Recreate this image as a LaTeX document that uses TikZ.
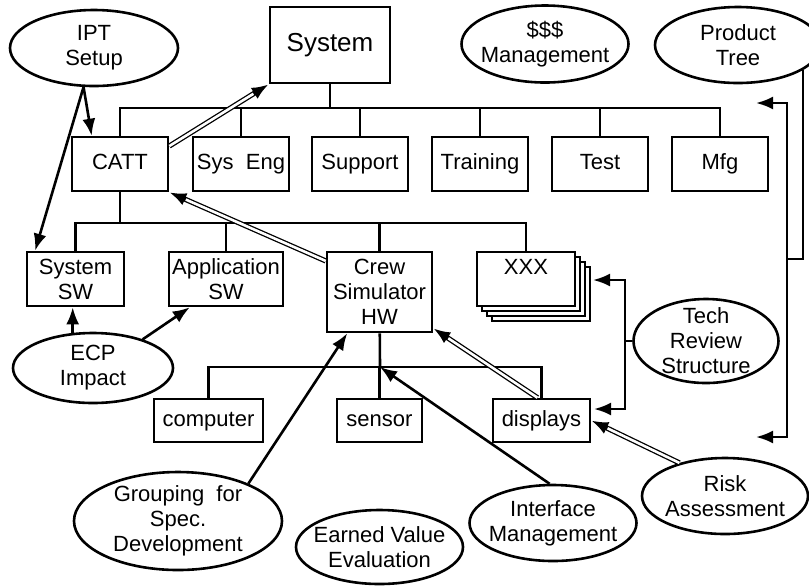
\documentclass[tikz,border=0pt]{standalone}
\usepackage{fontspec}
\setmainfont{Liberation Sans}
\usetikzlibrary{arrows.meta,calc,shapes.geometric}

\begin{document}
\begin{tikzpicture}[x=0.5pt,y=-0.5pt,line width=1.3pt,
    every node/.style={font=\fontsize{11}{12.5}\selectfont, align=center},
    wbs/.style={draw, rectangle, fill=white, inner sep=1pt,
        minimum width=48pt, minimum height=27pt},
    leaf/.style={wbs, text height=8pt, text depth=2.4pt},
    tool/.style={draw, ellipse, inner xsep=-8pt, inner ysep=-6pt},
    arr/.style={-{Latex[length=8.5pt,width=6.5pt]}},
    dbl/.style={line width=2.6pt, -{Latex[length=8.5pt,width=6.5pt]},
        postaction={draw=white, line width=1.3pt, -, shorten >=9pt}}
]

\useasboundingbox (0,0) rectangle (809,586);

% --- Top of the tree ---
\node[wbs, minimum width=60pt, minimum height=38pt,
    font=\fontsize{13}{15}\selectfont] (sys) at (330,45) {System};

\node[leaf] (catt)     at (120,164) {CATT};
\node[leaf] (syseng)   at (241,164) {Sys\ \ Eng};
\node[leaf] (support)  at (360,164) {Support};
\node[leaf] (training) at (480,164) {Training};
\node[leaf] (test)     at (600,164) {Test};
\node[leaf] (mfg)      at (720,164) {Mfg};

\coordinate (bus1) at (330,108);
\draw (sys) -- (bus1);
\foreach \n in {catt,syseng,support,training,test,mfg}
    \draw (\n.north) |- (bus1);

% --- Under CATT ---
% stacked copies behind XXX
\foreach \d in {15,10,5}
    \draw[fill=white] (477+\d,252+\d) rectangle (575+\d,306+\d);

\node[wbs, minimum width=48.5pt] (syssw) at (75.5,279) {System\\SW};
\node[wbs, minimum width=57pt]   (appsw) at (226,279)  {Application\\SW};
\node[wbs, minimum width=52.5pt, minimum height=40pt]
                                 (crew)  at (379.5,292) {Crew\\Simulator\\HW};
\node[wbs, minimum width=49pt]   (xxx)   at (526,279)  {XXX\\~};

\coordinate (bus2) at (120,223);
\draw (catt) -- (bus2);
\foreach \n in {syssw,appsw,crew,xxx}
    \draw (\n.north) |- (bus2);

% --- Under Crew Simulator HW ---
\node[leaf, minimum width=54.5pt, minimum height=21.5pt] (computer) at (208.5,420.5) {computer};
\node[leaf, minimum width=42.5pt, minimum height=21.5pt] (sensor)   at (379.5,420.5) {sensor};
\node[leaf, minimum width=48.5pt, minimum height=21.5pt] (displays) at (541.5,420.5) {displays};

\coordinate (bus3) at (380,367);
\draw (crew) -- (bus3);
\foreach \n in {computer,sensor,displays}
    \draw (\n.north) |- (bus3);

% --- Ellipses ---
\node[tool, minimum width=84pt,   minimum height=38pt]   (ipt)       at (94,48)    {IPT\\Setup};
\node[tool, minimum width=83.5pt, minimum height=38.5pt] (money)     at (545,44)   {\$\$\$\\Management};
\node[tool, minimum width=83pt,   minimum height=38pt]   (product)   at (738,45)   {Product\\Tree};
\node[tool, minimum width=72.5pt, minimum height=42pt]   (tech)      at (706,341)  {Tech\\Review\\Structure};
\node[tool, minimum width=80pt,   minimum height=35pt]   (ecp)       at (93,368)   {ECP\\Impact};
\node[tool, minimum width=104pt,  minimum height=49pt]   (grouping)  at (178,521)  {Grouping\ \ for\\Spec.\\Development};
\node[tool, minimum width=83.5pt, minimum height=37pt]   (earned)    at (379.5,547) {Earned Value\\Evaluation};
\node[tool, minimum width=83.5pt, minimum height=38pt]   (interface) at (553,523)  {Interface\\Management};
\node[tool, minimum width=83pt,   minimum height=38pt]   (risk)      at (725,496)  {Risk\\Assessment};

% --- Single arrows ---
\draw[arr] (ipt.255) -- (catt.135);
\draw[arr] (ipt.255) -- (syssw.145);
\draw[arr] (ecp.120) -- (ecp.120 |- syssw.south);
\draw[arr] (ecp.30) -- (appsw.218);
\draw[arr] (grouping.28) -- (crew.232);
\draw[arr] (interface.95) -- (bus3);

% --- Double arrows ---
\draw[dbl] (catt.20) -- (sys.south west);
\draw[dbl] (crew.150) -- (catt.south east);
\draw[dbl] (displays.100) -- (crew.-34);
\draw[dbl] (risk.144) -- (displays.east);

% --- Tech review bracket ---
\coordinate (techbar) at (625,341);
\coordinate (xxxtip)  at (593,280);
\coordinate (disptip) at (594,409);
\draw (tech.west) -- (techbar);
\draw[arr] (techbar) |- (xxxtip);
\draw[arr] (techbar) |- (disptip);

% --- Product tree bracket ---
\coordinate (treebar) at (787,259);
\coordinate (treetop) at (756,103);
\coordinate (treebot) at (756,437);
\draw (product.-21) |- (treebar);
\draw[arr] (treebar) |- (treetop);
\draw[arr] (treebar) |- (treebot);

\end{tikzpicture}
\end{document}
